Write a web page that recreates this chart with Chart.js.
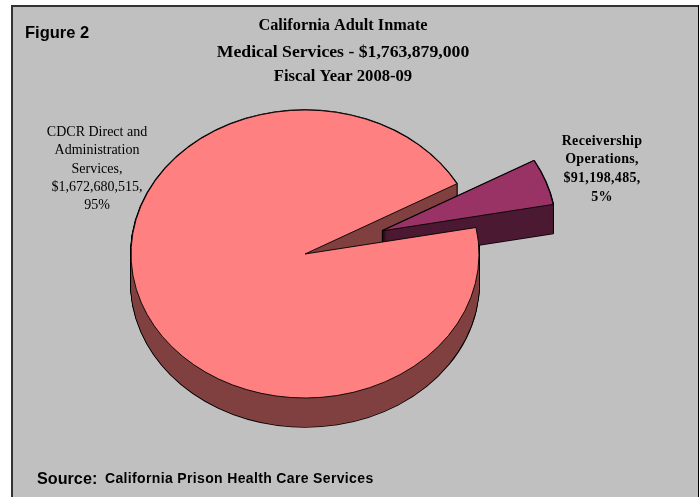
<!DOCTYPE html>
<html>
<head>
<meta charset="utf-8">
<title>California Adult Inmate Medical Services</title>
<script src="https://cdn.jsdelivr.net/npm/chart.js@4"></script>
<style>
    html, body { margin: 0; padding: 0; background: #ffffff; }
    canvas { display: block; }
</style>
</head>
<body>
<canvas id="costChart" width="700" height="497"></canvas>
<script>
const categories = ["CDCR Direct and Administration Services", "Receivership Operations"];
const categoryLines = [["CDCR Direct and", "Administration", "Services,"], ["Receivership", "Operations,"]];
const amounts = [1672680515, 91198485];
const percents = [95, 5];
const titleLines = ["California Adult Inmate", "Medical Services - $1,763,879,000", "Fiscal Year 2008-09"];

const topColors = ["#FF8080", "#993366"];
const wallColors = ["#804040", "#4C1933"];

const SERIF = '"Liberation Serif", serif';
const SANS = '"Liberation Sans", sans-serif';
const DEPTH = 29;
const SQUASH = 144 / 174;
// how far each slice is pulled out of the pie, along its middle angle
const EXPLODE = [0, 82];

function labelFor(i) {
    return categoryLines[i].concat(["$" + amounts[i].toLocaleString("en-US") + ",", percents[i] + "%"]);
}

// draws one arc element with other colours, squashed into an ellipse and pushed down by dy
function drawArcLayer(ctx, arc, index, dy, fill, stroke, width) {
    var saved = arc.options;
    var layer = Object.create(saved);
    var mid = (arc.startAngle + arc.endAngle) / 2;
    layer.backgroundColor = fill;
    layer.borderColor = stroke;
    layer.borderWidth = width;
    arc.options = layer;
    ctx.save();
    ctx.translate(0, arc.y + dy);
    ctx.scale(1, SQUASH);
    ctx.translate(Math.cos(mid) * EXPLODE[index], -arc.y + Math.sin(mid) * EXPLODE[index]);
    arc.draw(ctx);
    ctx.restore();
    arc.options = saved;
}

function drawWall(ctx, arc, index) {
    var d;
    // black pass first so only the outline of the solid is left after the fill pass
    for (d = 0; d <= DEPTH; d++) {
        drawArcLayer(ctx, arc, index, d, "#000000", "#000000", 2);
    }
    for (d = 0; d <= DEPTH; d++) {
        drawArcLayer(ctx, arc, index, d, wallColors[index], wallColors[index], 0);
    }
}

const solidPie = {
    id: "solidPie",
    beforeDatasetDraw(chart) {
        var ctx = chart.ctx;
        var arcs = chart.getDatasetMeta(0).data;
        drawWall(ctx, arcs[0], 0);
        drawWall(ctx, arcs[1], 1);
        drawArcLayer(ctx, arcs[1], 1, 0, topColors[1], "#000000", 1);
        drawArcLayer(ctx, arcs[0], 0, 0, topColors[0], "#000000", 1);
        return false;
    }
};

const panel = {
    id: "panel",
    beforeDraw(chart) {
        var ctx = chart.ctx;
        ctx.save();
        ctx.fillStyle = "#C0C0C0";
        ctx.fillRect(12, 6, 686, 491);
        ctx.fillStyle = "#333333";
        ctx.fillRect(11, 5, 688, 2);
        ctx.fillRect(11, 5, 2, 492);
        ctx.fillStyle = "#000000";
        ctx.fillRect(698, 5, 1, 492);
        ctx.restore();
    }
};

function drawLines(ctx, lines, x, ys) {
    lines.forEach(function(line, i) {
        ctx.fillText(line, x, ys[i]);
    });
}

const captions = {
    id: "captions",
    afterDraw(chart) {
        var ctx = chart.ctx;
        ctx.save();
        ctx.fillStyle = "#000000";
        ctx.textBaseline = "alphabetic";

        ctx.textAlign = "center";
        ctx.font = "bold 17.7px " + SERIF;
        ctx.fillText(titleLines[1], 343, 57);
        ctx.font = "bold 16.3px " + SERIF;
        ctx.fillText(titleLines[0], 343, 30);
        ctx.font = "bold 16.6px " + SERIF;
        ctx.fillText(titleLines[2], 343, 81);

        ctx.font = "14px " + SERIF;
        drawLines(ctx, labelFor(0), 97, [136, 154, 173, 191, 209]);

        ctx.font = "bold 14px " + SERIF;
        ctx.letterSpacing = "0.3px";
        drawLines(ctx, labelFor(1), 602, [145, 163, 182, 201]);
        ctx.letterSpacing = "0px";

        ctx.textAlign = "left";
        ctx.font = "bold 16.5px " + SANS;
        ctx.fillText("Figure 2", 25, 38);
        ctx.font = "bold 16.2px " + SANS;
        ctx.fillText("Source:", 37, 484);
        ctx.font = "bold 14px " + SANS;
        ctx.letterSpacing = "0.35px";
        ctx.fillText("California Prison Health Care Services", 105, 483);
        ctx.restore();
    }
};

new Chart(document.getElementById("costChart").getContext("2d"), {
    type: "pie",
    data: {
        labels: categories,
        datasets: [{
            data: amounts,
            backgroundColor: topColors,
            borderColor: "#000000",
            borderWidth: 1
        }]
    },
    options: {
        responsive: false,
        animation: false,
        events: [],
        rotation: 79.4,
        radius: 174,
        layout: { padding: { right: 90, top: 11 } },
        plugins: {
            legend: { display: false },
            tooltip: { enabled: false }
        }
    },
    plugins: [panel, solidPie, captions]
});
</script>
</body>
</html>
